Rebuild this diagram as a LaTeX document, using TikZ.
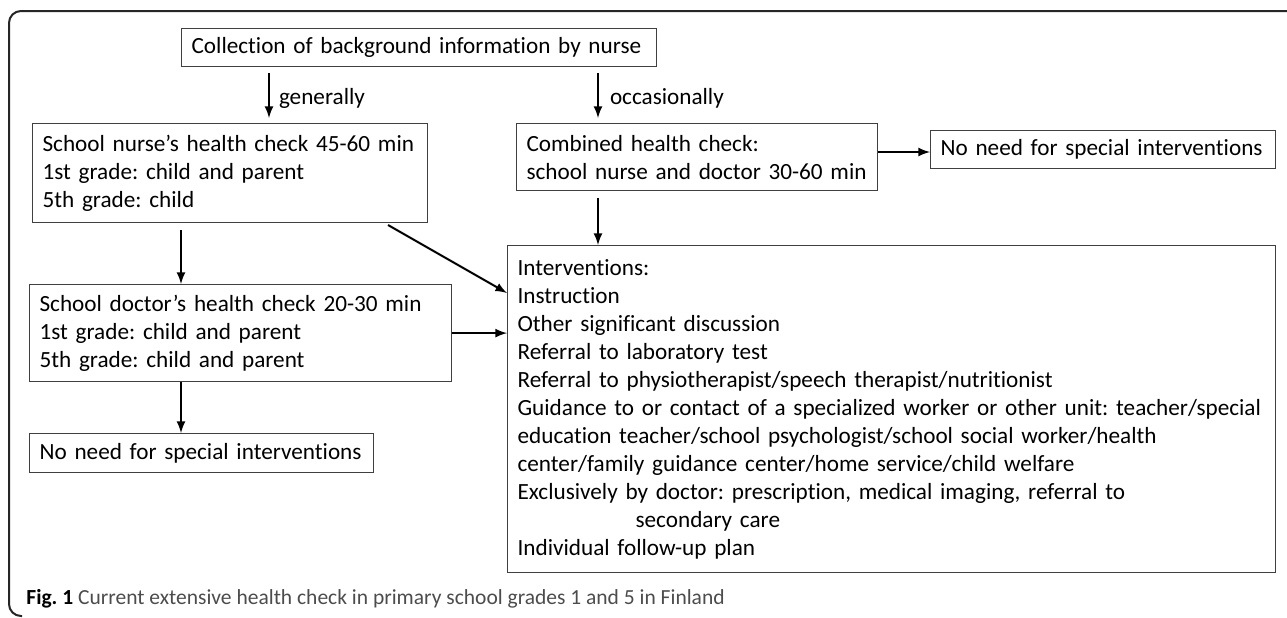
\documentclass[tikz,border=0pt]{standalone}
\usepackage{fontspec}
\setmainfont{Carlito}[Ligatures={TeX,NoCommon}]
\frenchspacing

\begin{document}
\begin{tikzpicture}[x=0.5pt, y=-0.5pt,
	box/.style={draw=black!75, line width=0.6pt, anchor=north west, align=left,
		inner xsep=5pt, inner ysep=0pt, font=\fontsize{11.6}{14}\selectfont},
	arr/.style={line width=1pt, -latex},
	lbl/.style={inner sep=0pt, font=\fontsize{11.6}{14}\selectfont}]
	\useasboundingbox (0,0) rectangle (1287,617);

	\coordinate (gen) at (269,0);
	\coordinate (occ) at (598,0);
	\coordinate (lft) at (181,0);
	\coordinate (dstart) at (388,225);

	\draw [line width=1pt, black!85, rounded corners=6pt] (1287,11) -- (9,11) -- (9,616) -- (22,616);

	\node [box, text width=227.5pt, minimum height=19pt] (bg) at (181,28) {Collection of background information by nurse};
	\node [box, text width=187.5pt, minimum height=49.5pt] (nurse) at (32,123)
		{School nurse’s health check 45-60 min\\1st grade: child and parent\\5th grade: child};
	\node [box, text width=170.5pt, minimum height=33.5pt] (comb) at (516,123)
		{Combined health check:\\school nurse and doctor 30-60 min};
	\node [box, text width=162.5pt, minimum height=19pt] (noneedR) at (930,130) {No need for special interventions};
	\node [box, text width=201pt, minimum height=48.5pt] (doctor) at (29,284)
		{School doctor’s health check 20-30 min\\1st grade: child and parent\\5th grade: child and parent};
	\node [box, text width=162pt, minimum height=19.5pt] (noneedL) at (29,433) {No need for special interventions};
	\node [box, text width=374pt, minimum height=163.5pt] (interv) at (507,245)
		{Interventions:\\Instruction\\Other significant discussion\\Referral to laboratory test\\
		Referral to physiotherapist/speech therapist/nutritionist\\
		Guidance to or contact of a specialized worker or other unit: teacher/special\\
		education teacher/school psychologist/school social worker/health\\
		center/family guidance center/home service/child welfare\\
		Exclusively by doctor: prescription, medical imaging, referral to\\
		\hspace*{59pt}secondary care\\
		Individual follow-up plan};

	\draw [arr, shorten >=2.5pt] ([yshift=-3pt]bg.south -| gen) -- (nurse.north -| gen)
		node [lbl, midway, right=4.5pt] {generally};
	\draw [arr, shorten >=2.5pt] ([yshift=-3pt]bg.south -| occ) -- (comb.north -| occ)
		node [lbl, midway, right=5.5pt] {occasionally};
	\draw [arr] (comb.east |- 0,152) -- (noneedR.west |- 0,152);
	\draw [arr] ([yshift=-3.5pt]comb.south -| occ) -- (interv.north -| occ);
	\draw [arr] ([yshift=-3.5pt]nurse.south -| lft) -- (doctor.north -| lft);
	\draw [arr] (dstart) -- (interv.west |- 0,293);
	\draw [arr] (doctor.east) -- (doctor.east -| interv.west);
	\draw [arr] (doctor.south -| lft) -- (noneedL.north -| lft);

	\node [anchor=west, inner sep=0pt, text=black!70, font=\fontsize{10.75}{12}\selectfont] (cap) at (26,599)
		{\textcolor{black}{\textbf{Fig. 1}} Current extensive health check in primary school grades 1 and 5 in Finland};
\end{tikzpicture}
\end{document}
